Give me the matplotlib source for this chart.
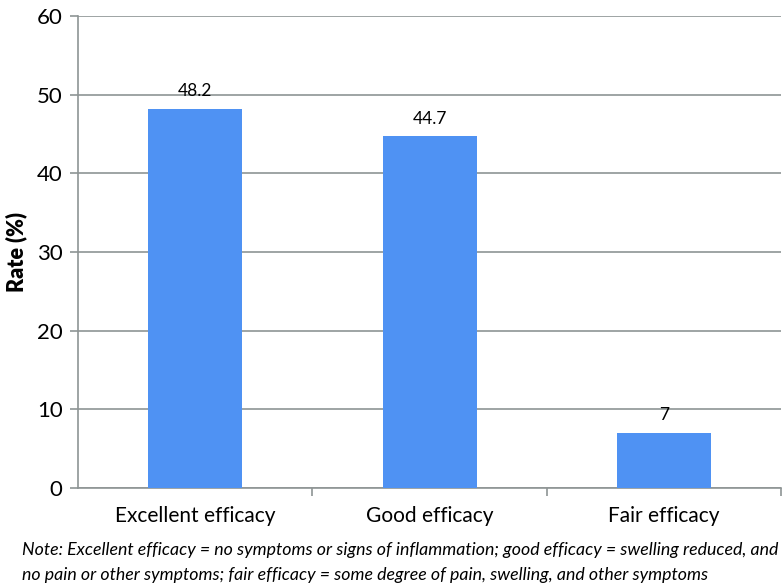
import matplotlib.pyplot as plt

categories = ["Excellent efficacy", "Good efficacy", "Fair efficacy"]
rates = [48.2, 44.7, 7]
value_labels = ["48.2", "44.7", "7"]
note = ("Note: Excellent efficacy = no symptoms or signs of inflammation; good efficacy = swelling reduced, and\n"
        "no pain or other symptoms; fair efficacy = some degree of pain, swelling, and other symptoms")

plt.rcParams['font.family'] = ['Lato', 'DejaVu Sans']

fig = plt.figure(figsize=(7.83, 5.84), dpi=100)
ax = fig.add_axes([0.0996, 0.1644, 0.8984, 0.8082])

grid_col = '#8e9595'
x = range(len(categories))
ax.bar(x, rates, width=0.4, color='#4f92f3', zorder=3)
for i, v in enumerate(rates):
    ax.text(i, v + 1.2, value_labels[i], ha='center', va='bottom', fontsize=12.5)

ax.set_xlim(-0.5, len(categories) - 0.5)
ax.set_ylim(0, 60)
ax.set_yticks(range(0, 61, 10))
ax.yaxis.grid(True, color=grid_col, linewidth=1.2, zorder=0)
ax.set_xticks(x)
ax.set_xticklabels(categories, fontsize=15)
ax.set_xticks([0.5, 1.5, 2.5], minor=True)
ax.tick_params(axis='x', which='major', length=0, pad=13)
ax.tick_params(axis='x', which='minor', length=6, color=grid_col, width=1.2)
ax.tick_params(axis='y', length=6, color=grid_col, width=1.2, labelsize=16, pad=5)
ax.set_ylabel("Rate (%)", fontsize=15.5, fontweight='heavy', labelpad=7)

for s in ['top', 'right']:
    ax.spines[s].set_visible(False)
for s in ['left', 'bottom']:
    ax.spines[s].set_color(grid_col)
    ax.spines[s].set_linewidth(1.2)

fig.text(0.028, 0.002, note, fontsize=12.8, style='italic', ha='left', va='bottom', linespacing=1.65)

fig.savefig("out.png", dpi=100)
